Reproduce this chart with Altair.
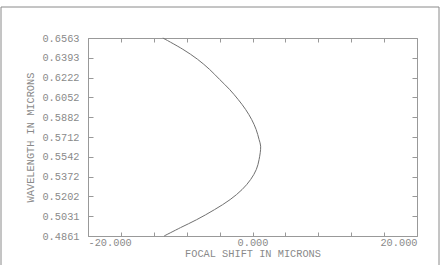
import altair as alt
import pandas as pd

# Focal shift (microns) vs wavelength (microns)
wavelength = [0.4861, 0.4933, 0.5001, 0.5088, 0.5174, 0.5260, 0.5346, 0.5432, 0.5518,
              0.5633, 0.5690, 0.5777, 0.5863, 0.5949, 0.6035, 0.6121, 0.6207, 0.6293,
              0.6380, 0.6466, 0.6563]
focal_shift = [-10.75, -8.75, -6.80, -4.61, -2.72, -1.27, -0.23, 0.46, 0.80,
               0.99, 0.80, 0.44, -0.11, -0.84, -1.75, -2.79, -4.00, -5.22,
               -6.68, -8.47, -10.90]

y_ticks = [0.4861, 0.5031, 0.5202, 0.5372, 0.5542, 0.5712, 0.5882, 0.6052, 0.6222, 0.6393, 0.6563]
x_ticks = [-20, -16, -12, -8, -4, 0, 4, 8, 12, 16, 20]
x_label_values = [-20, 0, 20]
x_label_texts = ["-20.000", "0.000", "20.000"]

x_title = "FOCAL SHIFT IN MICRONS"
y_title = "WAVELENGTH IN MICRONS"

df = pd.DataFrame({"wl": wavelength, "shift": focal_shift})

FONT = "Liberation Mono"
TXT = "#8a8a8a"
FS = 10.3

label_expr = " : ".join(
    f"datum.value == {v} ? '{t}'" for v, t in zip(x_label_values, x_label_texts)
) + " : ''"

xs = alt.Scale(domain=[-20, 20], nice=False, zero=False)
ys = alt.Scale(domain=[y_ticks[0], y_ticks[-1]], nice=False, zero=False)

base = alt.Chart(df)

main = base.mark_line(color="#707070", strokeWidth=1, interpolate="catmull-rom").encode(
    x=alt.X("shift:Q", scale=xs,
            axis=alt.Axis(orient="bottom", values=x_ticks, labelExpr=label_expr,
                          labelFlush=True, offset=-4, tickSize=4, tickColor="#999999",
                          domain=False, grid=False, labelPadding=1.5, title=x_title,
                          titlePadding=0.5, labelFont=FONT, titleFont=FONT,
                          labelFontSize=FS, titleFontSize=FS, labelColor=TXT,
                          titleColor=TXT, titleFontWeight="normal")),
    y=alt.Y("wl:Q", scale=ys,
            axis=alt.Axis(orient="left", values=y_ticks, format=".4f", offset=-5,
                          tickSize=5, tickColor="#999999", domain=False, grid=False,
                          labelPadding=9, title=y_title, titlePadding=6,
                          labelFont=FONT, titleFont=FONT, labelFontSize=FS,
                          titleFontSize=FS, labelColor=TXT, titleColor=TXT,
                          titleFontWeight="normal")),
    order=alt.Order("wl:Q"),
)

mirror = base.mark_line(strokeOpacity=0).encode(
    x=alt.X("shift:Q", scale=xs,
            axis=alt.Axis(orient="top", values=x_ticks, labels=False, offset=-4,
                          tickSize=4, tickColor="#999999", domain=False, grid=False,
                          title=None)),
    y=alt.Y("wl:Q", scale=ys,
            axis=alt.Axis(orient="right", values=y_ticks, labels=False, offset=-5,
                          tickSize=5, tickColor="#999999", domain=False, grid=False,
                          title=None)),
    order=alt.Order("wl:Q"),
)

frame = alt.Chart(pd.DataFrame({"k": [0]})).mark_rect(
    filled=False, stroke="#8a8a8a", strokeWidth=1
).encode(
    x=alt.value(-87), x2=alt.value(351), y=alt.value(-31), y2=alt.value(300)
)

chart = alt.layer(frame, main, mirror).resolve_axis(
    x="independent", y="independent"
).properties(
    width=329, height=198,
    autosize=alt.AutoSizeParams(type="none"),
    padding={"left": 88, "top": 38, "right": 29, "bottom": 29},
    background="white",
).configure_view(stroke="#999999", strokeWidth=1)

chart.save("out.html", embed_options={"renderer": "svg", "actions": False})
